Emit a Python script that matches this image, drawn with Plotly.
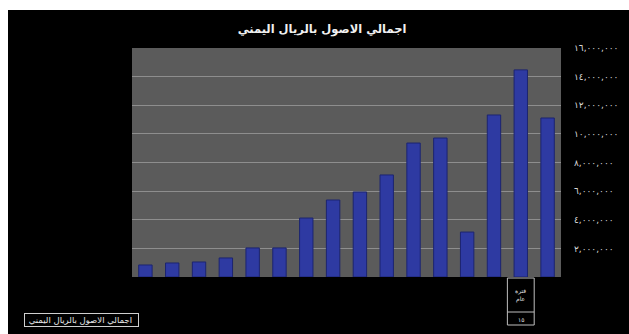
import plotly.graph_objects as go

# ---- data ----
categories = ["١", "٢", "٣", "٤", "٥", "٦", "٧", "٨", "٩", "١٠", "١١", "١٢", "١٣", "١٤", "١٥", "١٦"]
total_assets = [840000, 980000, 1050000, 1330000, 2030000, 2030000, 4120000, 5380000,
                5940000, 7130000, 9360000, 9710000, 3140000, 11320000, 14470000, 11110000]
series_name = "اجمالي الاصول بالريال اليمني"
chart_title = "اجمالي الاصول بالريال اليمني"
y_tickvals = [2000000, 4000000, 6000000, 8000000, 10000000, 12000000, 14000000, 16000000]
y_ticktext = ["٢,٠٠٠,٠٠٠", "٤,٠٠٠,٠٠٠", "٦,٠٠٠,٠٠٠", "٨,٠٠٠,٠٠٠",
              "١٠,٠٠٠,٠٠٠", "١٢,٠٠٠,٠٠٠", "١٤,٠٠٠,٠٠٠", "١٦,٠٠٠,٠٠٠"]
table_category = "١٥"
table_header = "فترة<br>عام"

W, H = 629, 334
ML, MR, MT, MB = 132, 68, 48, 57
PW, PH = W - ML - MR, H - MT - MB

def px_x(p):
    return (p - ML) / PW

def px_y(p):
    return (H - MB - p) / PH

FONT = "DejaVu Sans"

fig = go.Figure()
fig.add_trace(go.Bar(
    x=categories, y=total_assets, name=series_name,
    marker=dict(color="#2e3aa2", line=dict(color="#1c2470", width=1)),
    showlegend=False,
))

idx = categories.index(table_category)

shapes = [
    # white frame strips (left and top)
    dict(type="rect", xref="paper", yref="paper", x0=px_x(0), x1=px_x(8), y0=px_y(H), y1=px_y(0),
         fillcolor="white", line=dict(width=0), layer="below"),
    dict(type="rect", xref="paper", yref="paper", x0=px_x(0), x1=px_x(W), y0=px_y(10), y1=px_y(0),
         fillcolor="white", line=dict(width=0), layer="below"),
    # small data-table cell under one category
    dict(type="rect", xref="x", yref="paper", x0=idx - 0.5, x1=idx + 0.5, y0=px_y(325), y1=px_y(278),
         line=dict(color="#bfbfbf", width=1)),
    dict(type="line", xref="x", yref="paper", x0=idx - 0.5, x1=idx + 0.5, y0=px_y(312), y1=px_y(312),
         line=dict(color="#bfbfbf", width=1)),
]

annotations = [
    dict(xref="x", yref="paper", x=table_category, y=px_y(295), text=table_header, showarrow=False,
         font=dict(family=FONT, size=6, color="#e0e0e0"), yanchor="middle"),
    dict(xref="x", yref="paper", x=table_category, y=px_y(319), text=table_category, showarrow=False,
         font=dict(family=FONT, size=6, color="#e0e0e0"), yanchor="middle"),
    # legend box
    dict(xref="paper", yref="paper", x=px_x(24), y=px_y(313), xanchor="left", yanchor="top",
         text="\u00a0" + series_name + "\u00a0\u00a0", showarrow=False, bgcolor="black",
         bordercolor="#cfcfcf", borderwidth=1, borderpad=1,
         font=dict(family=FONT, size=8.5, color="#e8e8e8")),
]

fig.update_layout(
    width=W, height=H,
    margin=dict(l=ML, r=MR, t=MT, b=MB),
    paper_bgcolor="black",
    plot_bgcolor="#5b5b5b",
    bargap=0.5,
    title=dict(text="<b>" + chart_title + "</b>", x=322 / W, xanchor="center", xref="container",
               y=1 - 29 / H, yanchor="middle", yref="container",
               font=dict(family=FONT, size=11.5, color="#f0f0f0")),
    xaxis=dict(showticklabels=False, showgrid=False, zeroline=False, ticks=""),
    yaxis=dict(side="right", range=[0, 16000000], tickvals=y_tickvals, ticktext=y_ticktext,
               showgrid=True, gridcolor="#8e8e8e", gridwidth=1, zeroline=False, ticks="",
               ticklabelstandoff=12,
               tickfont=dict(family=FONT, size=9, color="#d8d8d8")),
    showlegend=False,
    shapes=shapes,
    annotations=annotations,
)

fig.write_html("out.html")
